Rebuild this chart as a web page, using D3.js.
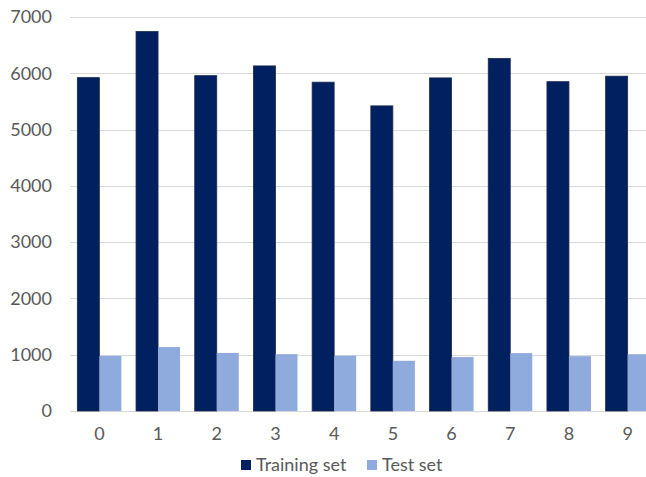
<!DOCTYPE html>
<html><head><meta charset="utf-8">
<script src="https://cdn.jsdelivr.net/npm/d3@7"></script>
<style>body{margin:0;background:#fff}svg{display:block}</style>
</head><body><svg id="c" width="646" height="477"></svg>
<script>
const categories = ["0","1","2","3","4","5","6","7","8","9"];
const trainingSet = [5923,6742,5958,6131,5842,5421,5918,6265,5851,5949];
const testSet = [980,1135,1032,1010,982,892,958,1028,974,1009];
const yTicks = [0,1000,2000,3000,4000,5000,6000,7000];
const seriesNames = ["Training set","Test set"];
const colors = ["#002060","#8FAADC"];

(function(){
const svg = d3.select("#c");
const mLeft = 70, mRight = 657, mTop = 17, mBottom = 411;
const font = "Lato, 'Liberation Sans', sans-serif";
const x = d3.scaleBand().domain(categories).range([mLeft, mRight]).paddingInner(0.25).paddingOuter(0.125);
const xs = d3.scaleBand().domain([0,1]).range([0, x.bandwidth()]);
const y = d3.scaleLinear().domain([0,7000]).range([mBottom, mTop]);

svg.append("g").selectAll("line").data(yTicks).join("line")
  .attr("x1", mLeft).attr("x2", mRight)
  .attr("y1", d=>Math.round(y(d))+0.5).attr("y2", d=>Math.round(y(d))+0.5)
  .attr("stroke", "#d9d9d9").attr("stroke-width", 1);

const yAxis = d3.axisLeft(y).tickValues(yTicks).tickFormat(d3.format("d")).tickSize(0).tickPadding(18);
const gy = svg.append("g").attr("transform", `translate(${mLeft},0)`).call(yAxis);
gy.select(".domain").remove();
gy.selectAll("text").attr("fill","#595959").style("font-family",font).style("font-size","18px");

const data = [trainingSet, testSet];
data.forEach((vals, si) => {
  svg.append("g").selectAll("rect").data(vals).join("rect")
    .attr("x", (d,i)=>x(categories[i]) + xs(si))
    .attr("y", d=>y(d))
    .attr("width", xs.bandwidth())
    .attr("height", d=>y(0)-y(d))
    .attr("fill", colors[si])
    .attr("stroke", si===0 ? "#1a2a4a" : "none")
    .attr("stroke-width", 0.8);
});

const xAxis = d3.axisBottom(x).tickSize(0).tickPadding(16);
const gx = svg.append("g").attr("transform", `translate(0,${mBottom})`).call(xAxis);
gx.select(".domain").remove();
gx.selectAll("text").attr("fill","#595959").style("font-family",font).style("font-size","18px");

const legendX = [241, 367];
const lg = svg.append("g");
seriesNames.forEach((n,i)=>{
  lg.append("rect").attr("x", legendX[i]).attr("y", 460).attr("width", 10).attr("height", 10).attr("fill", colors[i]);
  lg.append("text").attr("x", legendX[i]+15).attr("y", 471).text(n)
    .attr("fill","#595959").style("font-family",font).style("font-size","18px");
});
})();
</script></body></html>
